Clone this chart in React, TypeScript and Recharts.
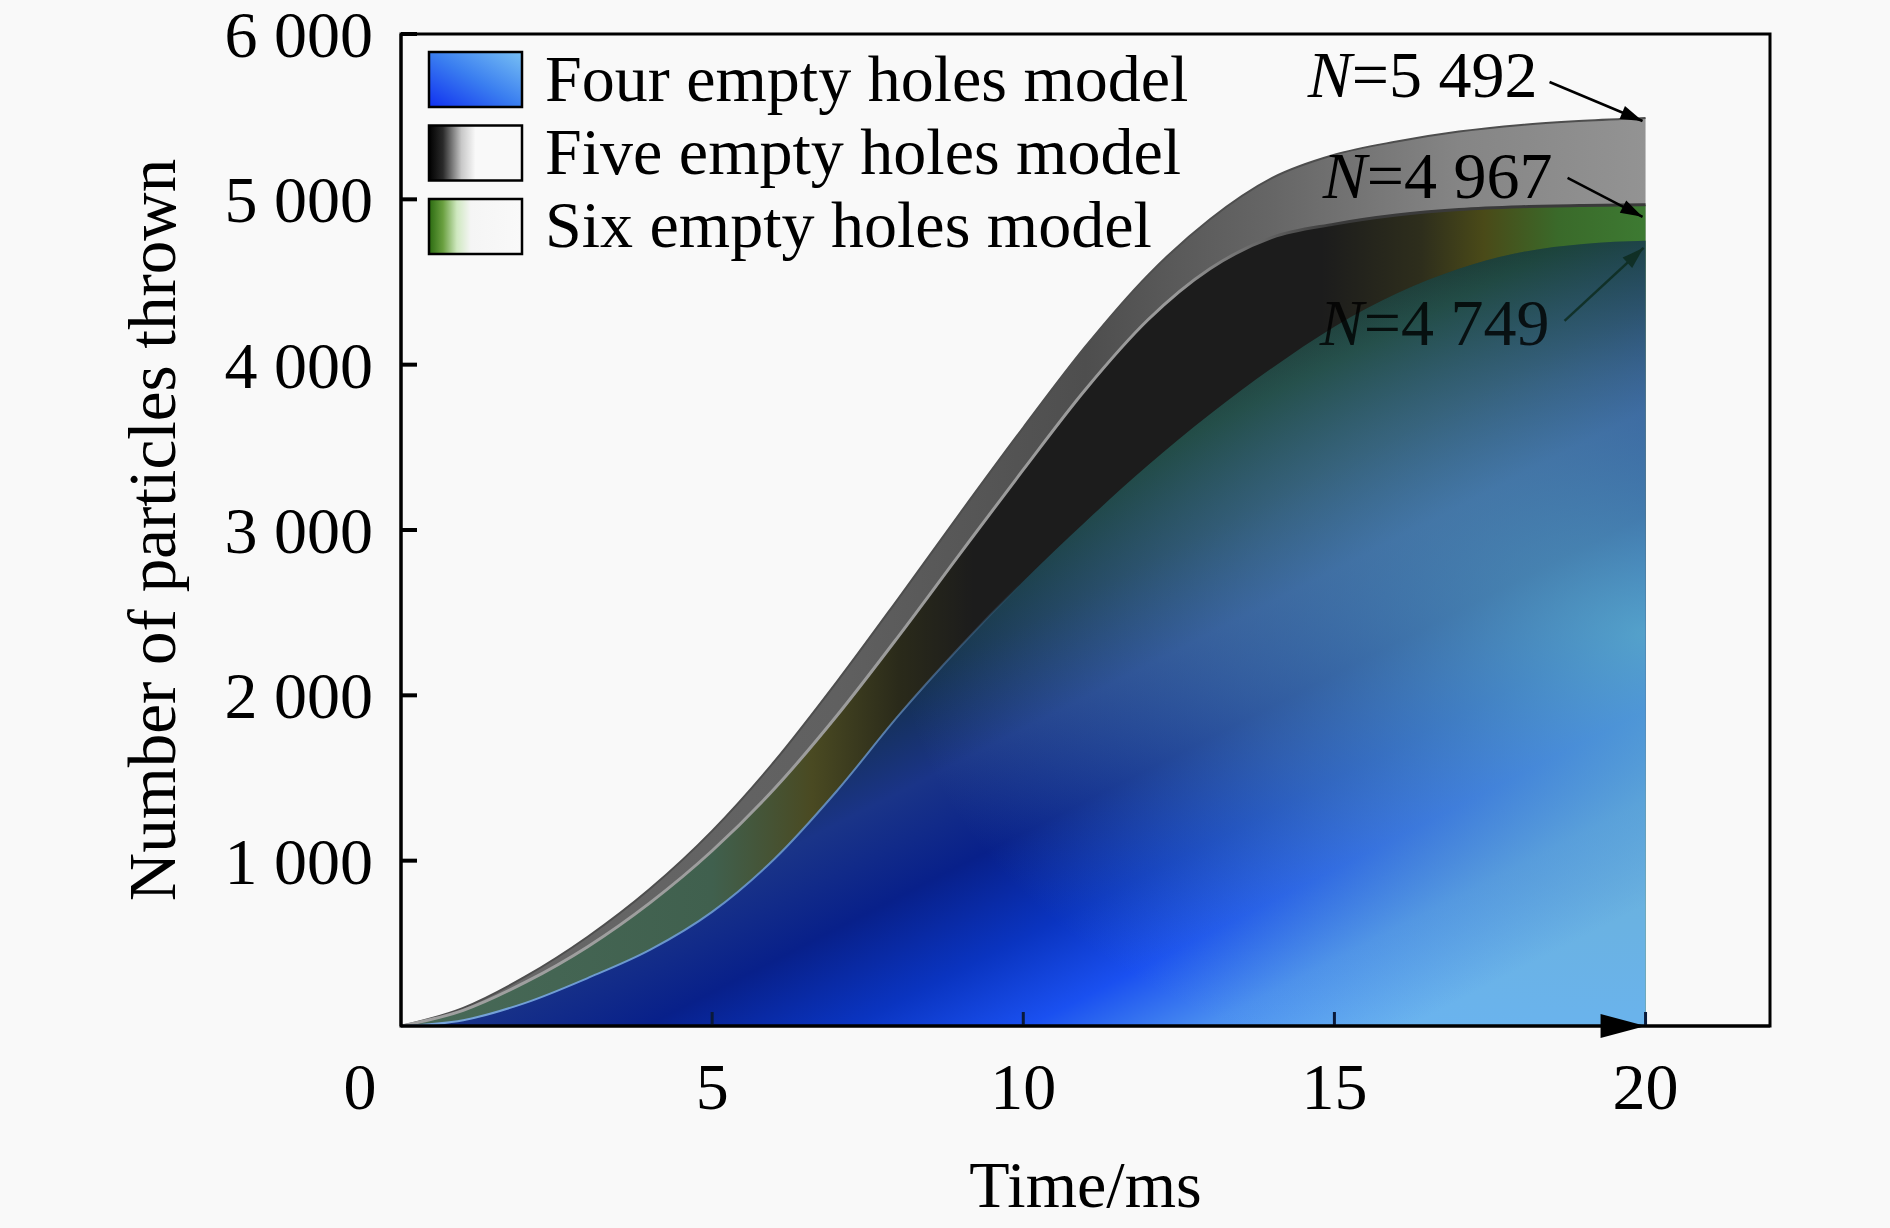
import React from "react";
import { AreaChart, Area, XAxis, YAxis, ReferenceDot, ReferenceLine, ReferenceArea } from "recharts";

const SERIF = "'Liberation Serif', 'Times New Roman', Times, serif";

// time axis, ms
const timeMs = [0, 1, 2, 3, 4, 5, 6, 7, 8, 9, 10, 11, 12, 13, 14, 15, 16, 17, 18, 19, 20];
// cumulative particles thrown
const fourHoles = [0, 35, 140, 290, 460, 690, 1010, 1420, 1880, 2300, 2690, 3050, 3390, 3700, 3980, 4230, 4430, 4580, 4680, 4730, 4749];
const fiveHoles = [0, 110, 300, 540, 830, 1180, 1600, 2080, 2590, 3110, 3620, 4110, 4540, 4880, 5130, 5270, 5350, 5410, 5450, 5475, 5492];
const sixHoles = [0, 95, 265, 480, 745, 1060, 1435, 1875, 2360, 2865, 3365, 3850, 4270, 4580, 4770, 4850, 4905, 4938, 4955, 4963, 4967];

const xTicks = [0, 5, 10, 15, 20];
const yTicks = [1000, 2000, 3000, 4000, 5000, 6000];
const xDomain = [0, 22];
const yDomain = [0, 6000];
const legendNames = ["Four empty holes model", "Five empty holes model", "Six empty holes model"];

const data = timeMs.map((t, i) => ({
  t,
  four: fourHoles[i],
  five: fiveHoles[i],
  six: sixHoles[i],
}));

const last = timeMs.length - 1;

// plot box in pixels
const W = 1890;
const H = 1228;
const M = { top: 34, right: 120, bottom: 102, left: 321 };
const plotW = W - M.left - 80 - M.right;
const plotH = H - M.top - M.bottom - 100;
// inward tick lengths, in data units
const yTickLen = (16 / plotW) * (xDomain[1] - xDomain[0]);
const xTickLen = (14 / plotH) * (yDomain[1] - yDomain[0]);

function fmt(v: number) {
  if (v < 1000) return String(v);
  return `${Math.floor(v / 1000)} ${String(v % 1000).padStart(3, "0")}`;
}

function TimeTick(props: any) {
  const { x, y, payload } = props;
  const v = payload.value;
  return (
    <text x={v === 0 ? x - 41 : x} y={y + 83} textAnchor="middle" fontFamily={SERIF} fontSize={66} fill="#000">
      {v}
    </text>
  );
}

function CountTick(props: any) {
  const { x, y, payload } = props;
  return (
    <text x={x} y={y + 23} textAnchor="end" fontFamily={SERIF} fontSize={66} fill="#000">
      {fmt(payload.value)}
    </text>
  );
}

function YTitle(props: any) {
  const vb = props.viewBox || { x: 321, y: 34, width: 80, height: 992 };
  const bx = vb.x + vb.width - 226;
  const cy = vb.y + vb.height / 2;
  return (
    <text x={bx} y={cy} transform={`rotate(-90 ${bx} ${cy})`} textAnchor="middle" fontFamily={SERIF} fontSize={67} fill="#000">
      Number of particles thrown
    </text>
  );
}

function XTitle(props: any) {
  const vb = props.viewBox || { x: 401, y: 1026, width: 1369, height: 100 };
  return (
    <text x={vb.x + vb.width / 2} y={vb.y + 181} textAnchor="middle" fontFamily={SERIF} fontSize={66} fill="#000">
      Time/ms
    </text>
  );
}

function arrowHead(x1: number, y1: number, x2: number, y2: number, len: number, half: number) {
  const a = Math.atan2(y2 - y1, x2 - x1);
  const bx = x2 - len * Math.cos(a);
  const by = y2 - len * Math.sin(a);
  const px = -Math.sin(a) * half;
  const py = Math.cos(a) * half;
  return `${x2},${y2} ${bx + px},${by + py} ${bx - px},${by - py}`;
}

function Callout(props: any) {
  const { cx, cy, value, textDx, textDy, tailDx, tailDy, tipDx, tipDy, color, opacity } = props;
  const x1 = cx + tailDx;
  const y1 = cy + tailDy;
  const x2 = cx + tipDx;
  const y2 = cy + tipDy;
  return (
    <g opacity={opacity}>
      <line x1={x1} y1={y1} x2={x2} y2={y2} stroke={color} strokeWidth={2.5} />
      <polygon points={arrowHead(x1, y1, x2, y2, 22, 7)} fill={color} />
      <text x={cx + textDx} y={cy + textDy} textAnchor="end" fontFamily={SERIF} fontSize={66} fill="#000">
        <tspan fontStyle="italic">N</tspan>={fmt(value)}
      </text>
    </g>
  );
}

function AxisArrow(props: any) {
  const { cx, cy } = props;
  return <polygon points={`${cx},${cy} ${cx - 45},${cy - 12} ${cx - 45},${cy + 12}`} fill="#000" />;
}

export default function App() {
  return (
    <div style={{ position: "absolute", left: 0, top: 0, width: W, height: H, background: "#f9f9f9" }}>
      <AreaChart width={W} height={H} data={data} margin={M}>
        <defs>
          <linearGradient id="fiveFill" x1="0" y1="0" x2="1" y2="0">
            <stop offset="0" stopColor="#6a6a6a" />
            <stop offset="0.35" stopColor="#606060" />
            <stop offset="0.55" stopColor="#4e4e4e" />
            <stop offset="0.7" stopColor="#666666" />
            <stop offset="0.85" stopColor="#858585" />
            <stop offset="1" stopColor="#939393" />
          </linearGradient>
          <linearGradient id="sixFill" x1="0" y1="0" x2="1" y2="0">
            <stop offset="0" stopColor="#486a58" />
            <stop offset="0.25" stopColor="#40604e" />
            <stop offset="0.33" stopColor="#4a4a22" />
            <stop offset="0.4" stopColor="#2a2a1a" />
            <stop offset="0.46" stopColor="#1c1c1c" />
            <stop offset="0.74" stopColor="#1c1c1c" />
            <stop offset="0.82" stopColor="#2e2e1c" />
            <stop offset="0.87" stopColor="#4a4a18" />
            <stop offset="0.93" stopColor="#3a6a2a" />
            <stop offset="1" stopColor="#3d7a32" />
          </linearGradient>
          <linearGradient id="sixEdge" x1="0" y1="0" x2="1" y2="0">
            <stop offset="0" stopColor="#a0a0a0" />
            <stop offset="0.62" stopColor="#9a9a9a" />
            <stop offset="0.75" stopColor="#3a3a3a" />
            <stop offset="1" stopColor="#3a3a3a" />
          </linearGradient>
          <linearGradient id="fourFill" x1="0" y1="0" x2="0.81" y2="1">
            <stop offset="0" stopColor="#000000" />
            <stop offset="0.38" stopColor="#101a14" />
            <stop offset="0.46" stopColor="#0e3024" />
            <stop offset="0.54" stopColor="#14304e" />
            <stop offset="0.62" stopColor="#1a3488" />
            <stop offset="0.7" stopColor="#08208a" />
            <stop offset="0.78" stopColor="#0a34c0" />
            <stop offset="0.85" stopColor="#1a50f0" />
            <stop offset="0.92" stopColor="#4a8ef0" />
            <stop offset="1" stopColor="#6ab4f4" />
          </linearGradient>
          <radialGradient id="fourTint" cx="1" cy="0.5" r="0.6" fx="1" fy="0.5">
            <stop offset="0" stopColor="#6cc4cc" stopOpacity={0.75} />
            <stop offset="0.55" stopColor="#6aaec0" stopOpacity={0.4} />
            <stop offset="1" stopColor="#6aaec0" stopOpacity={0} />
          </radialGradient>
          <linearGradient id="fourEdge" x1="0" y1="0" x2="1" y2="0">
            <stop offset="0" stopColor="#7aa8e0" stopOpacity={1} />
            <stop offset="0.38" stopColor="#6a98d0" stopOpacity={0.8} />
            <stop offset="0.5" stopColor="#6a98d0" stopOpacity={0} />
          </linearGradient>
        </defs>
        <XAxis
          dataKey="t"
          type="number"
          domain={xDomain}
          ticks={xTicks}
          height={100}
          tickSize={0}
          tickMargin={0}
          tickLine={false}
          tick={TimeTick}
          axisLine={{ stroke: "#000", strokeWidth: 3 }}
          label={XTitle}
        />
        <YAxis
          type="number"
          domain={yDomain}
          ticks={yTicks}
          width={80}
          tickSize={0}
          tickMargin={28}
          tickLine={false}
          tick={CountTick}
          axisLine={{ stroke: "#000", strokeWidth: 3 }}
          label={YTitle}
        />
        <Area type="monotone" dataKey="five" stroke="#4e4e4e" strokeWidth={2} fill="url(#fiveFill)" fillOpacity={1} dot={false} activeDot={false} isAnimationActive={false} />
        <Area type="monotone" dataKey="six" stroke="url(#sixEdge)" strokeWidth={3} fill="url(#sixFill)" fillOpacity={1} dot={false} activeDot={false} isAnimationActive={false} />
        <Area type="monotone" dataKey="four" stroke="url(#fourEdge)" strokeWidth={2} fill="url(#fourFill)" fillOpacity={1} dot={false} activeDot={false} isAnimationActive={false} />
        <Area type="monotone" dataKey="four" stroke="none" fill="url(#fourTint)" fillOpacity={1} dot={false} activeDot={false} isAnimationActive={false} />
        <ReferenceArea x1={xDomain[0]} x2={xDomain[1]} y1={yDomain[0]} y2={yDomain[1]} fill="none" stroke="#000" strokeWidth={3} ifOverflow="visible" />
        {yTicks.map((v) => (
          <ReferenceLine
            key={`yt${v}`}
            segment={[
              { x: xDomain[0], y: v },
              { x: xDomain[0] + yTickLen, y: v },
            ]}
            stroke="#000"
            strokeWidth={4}
            ifOverflow="visible"
          />
        ))}
        {xTicks
          .filter((v) => v > 0)
          .map((v) => (
            <ReferenceLine
              key={`xt${v}`}
              segment={[
                { x: v, y: yDomain[0] },
                { x: v, y: yDomain[0] + xTickLen },
              ]}
              stroke="#0a1a3a"
              strokeWidth={3}
              ifOverflow="visible"
            />
          ))}
        <ReferenceDot
          x={timeMs[last]}
          y={fiveHoles[last]}
          r={0}
          ifOverflow="visible"
          shape={(p: any) => (
            <Callout {...p} value={fiveHoles[last]} textDx={-108} textDy={-21} tailDx={-96} tailDy={-36} tipDx={-3} tipDy={3} color="#000" opacity={1} />
          )}
        />
        <ReferenceDot
          x={timeMs[last]}
          y={sixHoles[last]}
          r={0}
          ifOverflow="visible"
          shape={(p: any) => (
            <Callout {...p} value={sixHoles[last]} textDx={-93} textDy={-7} tailDx={-78} tailDy={-27} tipDx={-3} tipDy={12} color="#000" opacity={1} />
          )}
        />
        <ReferenceDot
          x={timeMs[last]}
          y={fourHoles[last]}
          r={0}
          ifOverflow="visible"
          shape={(p: any) => (
            <Callout {...p} value={fourHoles[last]} textDx={-96} textDy={104} tailDx={-81} tailDy={80} tipDx={-2} tipDy={7} color="#0c2a1c" opacity={0.8} />
          )}
        />
        <ReferenceDot x={timeMs[last]} y={0} r={0} ifOverflow="visible" shape={AxisArrow} />
      </AreaChart>
      <svg width={W} height={H} style={{ position: "absolute", left: 0, top: 0, pointerEvents: "none" }}>
        <defs>
          <linearGradient id="legFour" x1="0" y1="1" x2="1" y2="0">
            <stop offset="0" stopColor="#1030f0" />
            <stop offset="0.5" stopColor="#3a7ef0" />
            <stop offset="1" stopColor="#78c0f4" />
          </linearGradient>
          <linearGradient id="legFive" x1="0" y1="0" x2="1" y2="0">
            <stop offset="0" stopColor="#000" />
            <stop offset="0.15" stopColor="#2a2a2a" />
            <stop offset="0.35" stopColor="#c8c8c8" />
            <stop offset="0.5" stopColor="#f9f9f9" />
            <stop offset="1" stopColor="#f9f9f9" />
          </linearGradient>
          <linearGradient id="legSix" x1="0" y1="0" x2="1" y2="0">
            <stop offset="0" stopColor="#2a6a10" />
            <stop offset="0.15" stopColor="#6aa040" />
            <stop offset="0.3" stopColor="#cfe8c0" />
            <stop offset="0.45" stopColor="#f5f5f5" />
            <stop offset="1" stopColor="#f9f9f9" />
          </linearGradient>
        </defs>
        {legendNames.map((name, i) => (
          <g key={name}>
            <rect x={429} y={52 + i * 73.5} width={93} height={55} fill={`url(#${["legFour", "legFive", "legSix"][i]})`} stroke="#000" strokeWidth={2.5} />
            <text x={545} y={101 + i * 73} fontFamily={SERIF} fontSize={66} fill="#000">
              {name}
            </text>
          </g>
        ))}
      </svg>
    </div>
  );
}
